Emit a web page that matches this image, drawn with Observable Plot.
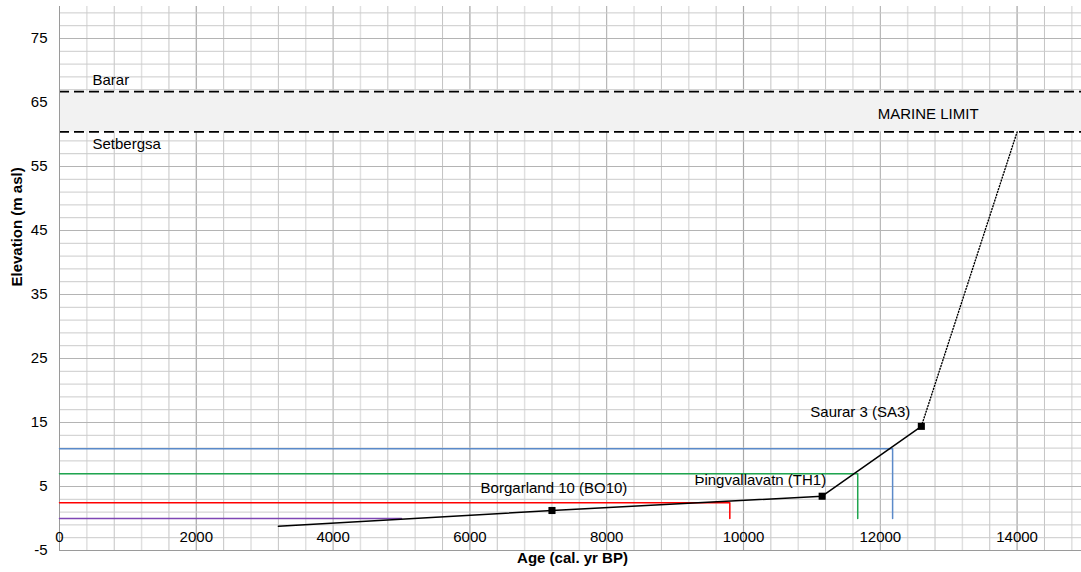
<!DOCTYPE html>
<html><head><meta charset="utf-8">
<script src="https://cdn.jsdelivr.net/npm/d3@7"></script>
<script src="https://cdn.jsdelivr.net/npm/@observablehq/plot@0.6"></script>
<style>
body{margin:0;background:#fff;}
#chart svg{font-family:"Liberation Sans",Arial,sans-serif;}
</style>
</head><body><div id="chart"></div>
<script>
// Tick labels
const xTicks = [0, 2000, 4000, 6000, 8000, 10000, 12000, 14000];
const yTicks = [-5, 5, 15, 25, 35, 45, 55, 65, 75];

// Marine limit band
const limitNames = ["Barar", "Setbergsa"];
const limitElev = [66.7, 60.4];
const limitLabel = "MARINE LIMIT";

// Threshold lines (elevation, age where the lake was isolated)
const thresholdColors = ["#5b8ac9", "#1fa54f", "#ff0000", "#7f47b5"];
const thresholdElev = [10.9, 7.0, 2.45, 0];
const thresholdAge = [12180, 11670, 9800, 5000];

// Relative sea-level curve
const curveAge = [3200, 7200, 11150, 12600];
const curveElev = [-1.2, 1.25, 3.48, 14.4];
const extrapAge = [12600, 14000];
const extrapElev = [14.4, 60.4];

// Dated isolation basins
const siteNames = ["Borgarland 10 (BO10)", "Þingvallavatn (TH1)", "Saurar 3 (SA3)"];
const siteAge = [7200, 11150, 12600];
const siteElev = [1.25, 3.48, 14.4];

// Build tables
const thresholdPaths = thresholdElev.flatMap((e, i) => {
  const pts = [{s: i, x: 0, y: e}, {s: i, x: thresholdAge[i], y: e}];
  if (e !== 0) pts.push({s: i, x: thresholdAge[i], y: 0});
  return pts;
});
const curve = curveAge.map((a, i) => ({x: a, y: curveElev[i]}));
const extrap = extrapAge.map((a, i) => ({x: a, y: extrapElev[i]}));
const sites = siteNames.map((n, i) => ({name: n, x: siteAge[i], y: siteElev[i]}));
const minorX = d3.range(0, 15001, 400);
const minorY = d3.range(-5, 80, 2);
const majorY = d3.range(-5, 80, 10);

const FS = 15;
const chart = Plot.plot({
  width: 1081,
  height: 572,
  marginTop: 6,
  marginBottom: 22,
  marginLeft: 59,
  marginRight: -4,
  x: {domain: [0, 15000], axis: null},
  y: {domain: [-5, 80], axis: null},
  style: {fontSize: FS + "px", fontFamily: "'Liberation Sans', Arial, sans-serif", background: "#fff", overflow: "visible"},
  marks: [
    Plot.ruleX(minorX.filter(v => v % 800 !== 0), {stroke: "#e0e0e0", strokeWidth: 1.5}),
    Plot.ruleX(minorX.filter(v => v % 800 === 0 && v % 2000 !== 0), {stroke: "#c4c4c4", strokeWidth: 1}),
    Plot.ruleX(xTicks, {stroke: "#a8a8a8", strokeWidth: 1}),
    Plot.ruleY(minorY.filter(v => (v + 5) % 10 !== 0), {stroke: "#cbcbcb", strokeWidth: 1}),
    Plot.ruleY(majorY, {stroke: "#b4b4b4", strokeWidth: 1}),
    Plot.rect([{y1: limitElev[1], y2: limitElev[0]}], {x1: 0, x2: 15000, y1: "y1", y2: "y2", fill: "#f2f2f2"}),
    Plot.ruleY(limitElev, {stroke: "#000", strokeWidth: 1.75, strokeDasharray: "10,5"}),
    Plot.ruleX([0], {stroke: "#9a9a9a"}),
    Plot.ruleY([-5], {stroke: "#9a9a9a"}),
    Plot.line(thresholdPaths, {x: "x", y: "y", z: "s", stroke: d => thresholdColors[d.s], strokeWidth: 1.5}),
    Plot.line(extrap, {x: "x", y: "y", stroke: "#000", strokeWidth: 1.4, strokeDasharray: "1,2"}),
    Plot.line(curve, {x: "x", y: "y", stroke: "#000", strokeWidth: 1.5}),
    Plot.dot(sites, {x: "x", y: "y", symbol: "square", r: 4, fill: "#000"}),
    Plot.text([sites[0]], {x: "x", y: "y", text: "name", dy: -22, dx: 2, fill: "#000"}),
    Plot.text([sites[1]], {x: "x", y: "y", text: "name", textAnchor: "end", dx: 4, dy: -16, fill: "#000"}),
    Plot.text([sites[2]], {x: "x", y: "y", text: "name", textAnchor: "end", dx: -11, dy: -14, fill: "#000"}),
    Plot.text([limitNames[0]], {x: 0, y: limitElev[0], text: d => d, textAnchor: "start", dx: 33, dy: -11, fill: "#000"}),
    Plot.text([limitNames[1]], {x: 0, y: limitElev[1], text: d => d, textAnchor: "start", dx: 33, dy: 12, fill: "#000"}),
    Plot.text([limitLabel], {x: 12700, y: (limitElev[0] + limitElev[1]) / 2, text: d => d, dy: 2, fill: "#000", fontSize: 15}),
    Plot.text(xTicks, {x: d => d, y: -5, text: d => String(d), dy: -13, fill: "#000"}),
    Plot.text(yTicks, {x: 0, y: d => d, text: d => String(d), textAnchor: "end", dx: -12, fill: "#000"}),
    Plot.text(["Age (cal. yr BP)"], {frameAnchor: "bottom", text: d => d, dy: 12, fontWeight: "bold", fill: "#000"}),
    Plot.text(["Elevation (m asl)"], {frameAnchor: "left", text: d => d, rotate: -90, dx: -42, dy: 8, fontWeight: "bold", fill: "#000"})
  ]
});
document.getElementById("chart").appendChild(chart);
</script>
</body></html>
